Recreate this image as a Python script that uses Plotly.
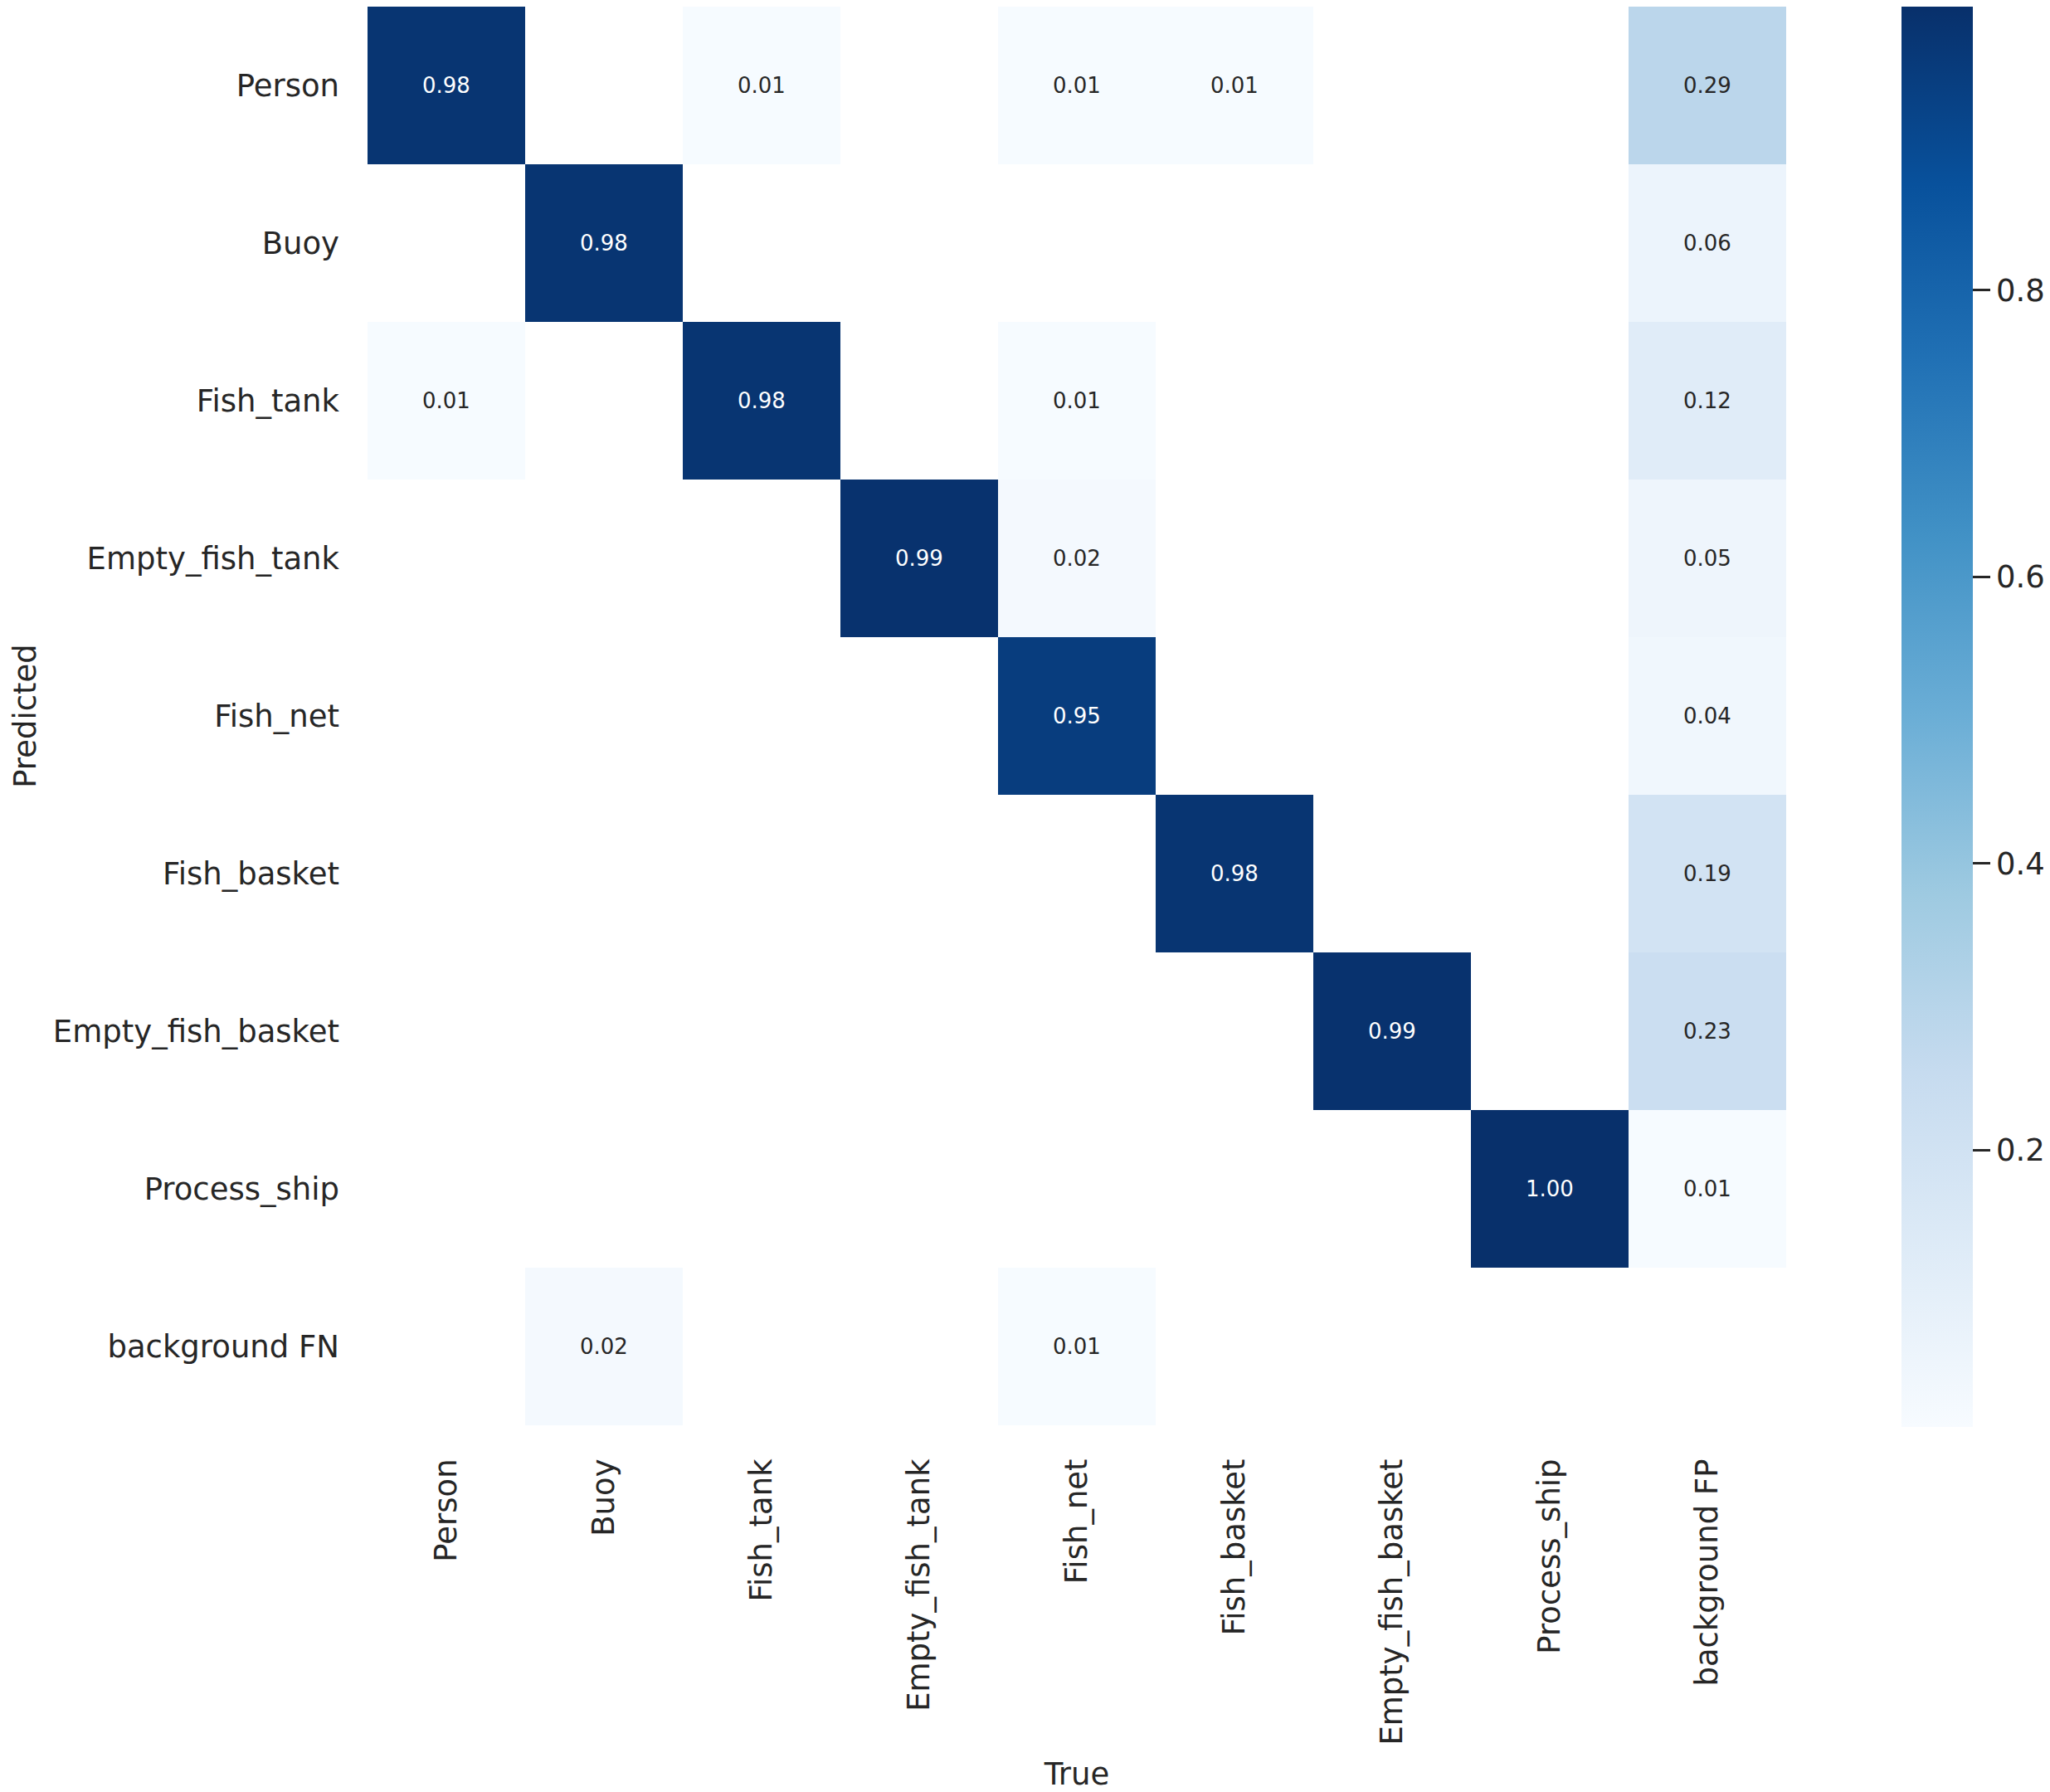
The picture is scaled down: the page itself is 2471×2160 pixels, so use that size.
import plotly.graph_objects as go

# class names along each axis
TRUE_LABELS = ['Person', 'Buoy', 'Fish_tank', 'Empty_fish_tank', 'Fish_net',
               'Fish_basket', 'Empty_fish_basket', 'Process_ship', 'background FP']
PRED_LABELS = ['Person', 'Buoy', 'Fish_tank', 'Empty_fish_tank', 'Fish_net',
               'Fish_basket', 'Empty_fish_basket', 'Process_ship', 'background FN']

# normalised confusion matrix, rows = predicted, columns = true (None = empty cell)
row_person = [0.98, None, 0.01, None, 0.01, 0.01, None, None, 0.29]
row_buoy = [None, 0.98, None, None, None, None, None, None, 0.06]
row_fish_tank = [0.01, None, 0.98, None, 0.01, None, None, None, 0.12]
row_empty_fish_tank = [None, None, None, 0.99, 0.02, None, None, None, 0.05]
row_fish_net = [None, None, None, None, 0.95, None, None, None, 0.04]
row_fish_basket = [None, None, None, None, None, 0.98, None, None, 0.19]
row_empty_fish_basket = [None, None, None, None, None, None, 0.99, None, 0.23]
row_process_ship = [None, None, None, None, None, None, None, 1.00, 0.01]
row_background_fn = [None, 0.02, None, None, 0.01, None, None, None, None]

matrix = [row_person, row_buoy, row_fish_tank, row_empty_fish_tank, row_fish_net,
          row_fish_basket, row_empty_fish_basket, row_process_ship, row_background_fn]

# matplotlib "Blues"
BLUES = ['#f7fbff', '#deebf7', '#c6dbef', '#9ecae1', '#6baed6',
         '#4292c6', '#2171b5', '#08519c', '#08306b']
colorscale = [[i / (len(BLUES) - 1), c] for i, c in enumerate(BLUES)]
ZMIN, ZMAX = 0.0066, 0.998
TEXT = '#262626'
FONT = 'DejaVu Sans'

fig = go.Figure()
fig.add_trace(go.Heatmap(
    z=matrix, x=TRUE_LABELS, y=PRED_LABELS,
    colorscale=colorscale, zmin=ZMIN, zmax=ZMAX,
    hoverongaps=False,
    colorbar=dict(
        thickness=86, thicknessmode='pixels',
        len=1712, lenmode='pixels',
        x=1.0813, xanchor='left', y=1.0, yanchor='top',
        xpad=0, ypad=0, outlinewidth=0,
        ticks='outside', ticklen=21, tickwidth=3, tickcolor=TEXT,
        tickvals=[0.2, 0.4, 0.6, 0.8], tickformat='.1f',
        tickfont=dict(family=FONT, size=37, color=TEXT),
    ),
))


def lum(c):
    # relative luminance, same rule seaborn uses to pick annotation colour
    vals = []
    for k in (1, 3, 5):
        v = int(c[k:k + 2], 16) / 255
        vals.append(v / 12.92 if v <= 0.03928 else ((v + 0.055) / 1.055) ** 2.4)
    return 0.2126 * vals[0] + 0.7152 * vals[1] + 0.0722 * vals[2]


def cell_color(v):
    t = min(max((v - ZMIN) / (ZMAX - ZMIN), 0), 1) * (len(BLUES) - 1)
    i = min(int(t), len(BLUES) - 2)
    f = t - i
    a, b = BLUES[i], BLUES[i + 1]
    rgb = [round(int(a[k:k + 2], 16) * (1 - f) + int(b[k:k + 2], 16) * f) for k in (1, 3, 5)]
    return '#%02x%02x%02x' % tuple(rgb)


for r, row in enumerate(matrix):
    for c, v in enumerate(row):
        if v is None:
            continue
        col = 'white' if lum(cell_color(v)) <= 0.408 else TEXT
        fig.add_annotation(x=TRUE_LABELS[c], y=PRED_LABELS[r], text=f'{v:.2f}',
                           showarrow=False, font=dict(family=FONT, size=26, color=col))

# page body adds 8px on top/left, so the figure is a bit smaller and shifted
fig.update_layout(
    width=2463, height=2152,
    margin=dict(l=435, r=318, t=0, b=442),
    paper_bgcolor='white', plot_bgcolor='white',
    font=dict(family=FONT, color=TEXT),
)
fig.update_xaxes(
    title=dict(text='True', font=dict(size=37, color=TEXT), standoff=30),
    tickangle=-90, tickfont=dict(size=37, color=TEXT),
    ticklabelstandoff=32, showgrid=False, zeroline=False, showline=False,
    ticks='', automargin=False,
)
fig.update_yaxes(
    title=dict(text='Predicted', font=dict(size=37, color=TEXT), standoff=8),
    autorange='reversed', tickfont=dict(size=37, color=TEXT),
    ticklabelstandoff=33, showgrid=False, zeroline=False, showline=False,
    ticks='', automargin=False,
)

fig.write_html('out.html')
